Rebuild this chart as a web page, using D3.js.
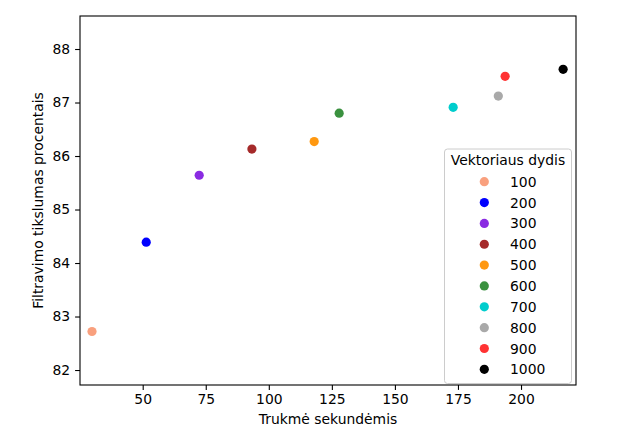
<!DOCTYPE html>
<html>
<head>
<meta charset="utf-8">
<script src="https://cdn.jsdelivr.net/npm/d3@7"></script>
<style>
body { margin: 0; background: #fff; }
text { font-family: "DejaVu Sans", sans-serif; }
</style>
</head>
<body>
<svg></svg>
<script>
var sizes = ["100", "200", "300", "400", "500", "600", "700", "800", "900", "1000"];
var times = [29.9, 51.4, 72.4, 93.3, 118.0, 127.9, 173.1, 191.0, 193.7, 216.7];
var accuracy = [82.72, 84.39, 85.64, 86.13, 86.27, 86.80, 86.91, 87.12, 87.49, 87.62];
var colors = ["#f9a07e", "#0000ff", "#8a2be2", "#a52a2a", "#ff9810", "#3a913f", "#00cdcd", "#a9a9a9", "#ff3333", "#000000"];
var xTicks = [50, 75, 100, 125, 150, 175, 200];
var yTicks = [82, 83, 84, 85, 86, 87, 88];

var screen = {width: 639, height: 437};
var plot = {left: 80, right: 576, top: 16, bottom: 385};

var points = sizes.map(function(s, i)
{
    return {size: s, x: times[i], y: accuracy[i], color: colors[i]};
});

var svg = d3.select("svg")
    .attr("width", screen.width)
    .attr("height", screen.height);

var xScale = d3.scaleLinear()
    .domain([25.14, 221.8])
    .range([plot.left, plot.right]);

var yScale = d3.scaleLinear()
    .domain([81.72, 88.617])
    .range([plot.bottom, plot.top]);

// axes
var xAxis = svg.append("g")
    .attr("transform", "translate(0," + plot.bottom + ")")
    .call(d3.axisBottom(xScale).tickValues(xTicks).tickFormat(d3.format("d"))
        .tickSize(4.9).tickPadding(4.2).tickSizeOuter(0));

var yAxis = svg.append("g")
    .attr("transform", "translate(" + plot.left + ",0)")
    .call(d3.axisLeft(yScale).tickValues(yTicks).tickFormat(d3.format("d"))
        .tickSize(4.9).tickPadding(4.9).tickSizeOuter(0));

[xAxis, yAxis].forEach(function(a)
{
    a.select(".domain").remove();
    a.selectAll("line").attr("stroke", "#000").attr("stroke-width", 1.1);
    a.selectAll("text").attr("fill", "#000").style("font-size", "13.9px");
});

// frame
svg.append("rect")
    .attr("x", plot.left)
    .attr("y", plot.top)
    .attr("width", plot.right - plot.left)
    .attr("height", plot.bottom - plot.top)
    .attr("fill", "none")
    .attr("stroke", "#000")
    .attr("stroke-width", 1.1);

svg.selectAll("circle.pt")
    .data(points)
    .enter()
    .append("circle")
    .attr("class", "pt")
    .attr("cx", function(p){return xScale(p.x)})
    .attr("cy", function(p){return yScale(p.y)})
    .attr("r", 4.6)
    .attr("fill", function(p){return p.color});

// axis labels
svg.append("text")
    .attr("x", (plot.left + plot.right) / 2)
    .attr("y", 424)
    .attr("text-anchor", "middle")
    .style("font-size", "13.9px")
    .text("Trukmė sekundėmis");

svg.append("text")
    .attr("transform", "translate(43," + ((plot.top + plot.bottom) / 2) + ") rotate(-90)")
    .attr("text-anchor", "middle")
    .style("font-size", "13.9px")
    .text("Filtravimo tikslumas procentais");

// legend
var legend = svg.append("g");

legend.append("rect")
    .attr("x", 444.5)
    .attr("y", 149)
    .attr("width", 127)
    .attr("height", 234.5)
    .attr("rx", 3)
    .attr("fill", "#fff")
    .attr("fill-opacity", 0.8)
    .attr("stroke", "#cccccc")
    .attr("stroke-width", 1);

legend.append("text")
    .attr("x", 508)
    .attr("y", 165)
    .attr("text-anchor", "middle")
    .style("font-size", "13.9px")
    .text("Vektoriaus dydis");

var rows = legend.selectAll("g.row")
    .data(points)
    .enter()
    .append("g")
    .attr("class", "row")
    .attr("transform", function(p, i){return "translate(0," + (181.7 + i * 20.85) + ")"});

rows.append("circle")
    .attr("cx", 484.3)
    .attr("cy", 0)
    .attr("r", 4.6)
    .attr("fill", function(p){return p.color});

rows.append("text")
    .attr("x", 510)
    .attr("y", 0)
    .attr("dy", "0.36em")
    .style("font-size", "13.9px")
    .text(function(p){return p.size});
</script>
</body>
</html>
